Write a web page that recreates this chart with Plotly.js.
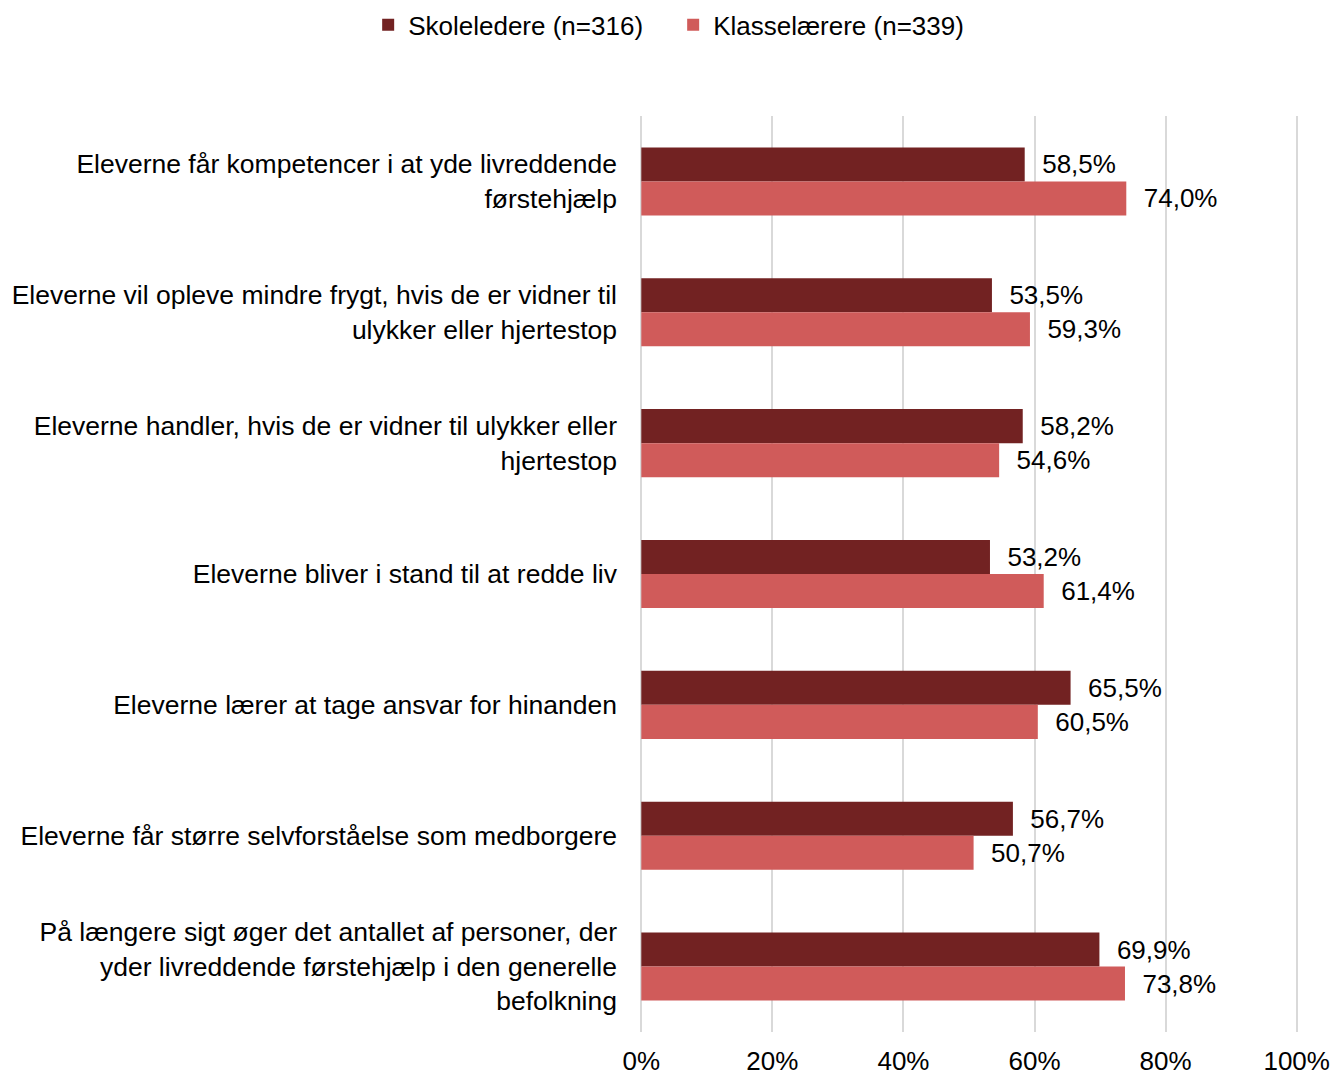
<!DOCTYPE html>
<html><head><meta charset="utf-8">
<script src="https://cdn.plot.ly/plotly-3.0.1.min.js"></script>
<style>html,body{margin:0;padding:0;background:#fff}#chart{width:1333px;height:1076px}</style>
</head><body><div id="chart"></div>
<script>
const categories = [
  "Eleverne får kompetencer i at yde livreddende<br>førstehjælp",
  "Eleverne vil opleve mindre frygt, hvis de er vidner til<br>ulykker eller hjertestop",
  "Eleverne handler, hvis de er vidner til ulykker eller<br>hjertestop",
  "Eleverne bliver i stand til at redde liv",
  "Eleverne lærer at tage ansvar for hinanden",
  "Eleverne får større selvforståelse som medborgere",
  "På længere sigt øger det antallet af personer, der<br>yder livreddende førstehjælp i den generelle<br>befolkning"
];
const skoleledere = [58.5, 53.5, 58.2, 53.2, 65.5, 56.7, 69.9];
const klasselaerere = [74.0, 59.3, 54.6, 61.4, 60.5, 50.7, 73.8];
const seriesNames = ["Skoleledere (n=316)", "Klasselærere (n=339)"];
const tickVals = [0, 20, 40, 60, 80, 100];
const tickText = ["0%", "20%", "40%", "60%", "80%", "100%"];

const fmt = v => "\u00a0\u00a0" + v.toFixed(1).replace(".", ",") + "%";
const font = {family: "Liberation Sans, Arial, sans-serif", size: 26, color: "#000"};
const yfont = {family: "Liberation Sans, Arial, sans-serif", size: 26.5, color: "#000"};

const traces = [
  {type: "bar", orientation: "h", name: seriesNames[0], y: categories, x: skoleledere,
   marker: {color: "#722222"}, text: skoleledere.map(fmt), textposition: "outside",
   textfont: font, cliponaxis: false, hoverinfo: "x"},
  {type: "bar", orientation: "h", name: seriesNames[1], y: categories, x: klasselaerere,
   marker: {color: "#D05B5A"}, text: klasselaerere.map(fmt), textposition: "outside",
   textfont: font, cliponaxis: false, hoverinfo: "x"}
];

const layout = {
  width: 1333, height: 1076,
  margin: {l: 639.7, r: 34.7, t: 116, b: 44},
  paper_bgcolor: "#fff", plot_bgcolor: "#fff",
  font: font,
  barmode: "group", bargap: 0.48, bargroupgap: 0,
  showlegend: true,
  legend: {orientation: "h", xref: "container", yref: "container", x: 0.505, xanchor: "center",
           y: 0.977, yanchor: "middle", font: font, itemwidth: 30, traceorder: "normal",
           entrywidth: 260},
  xaxis: {range: [-0.2, 100.2], tickvals: tickVals, ticktext: tickText, showgrid: true,
          gridcolor: "#d9d9d9", gridwidth: 2, zeroline: false, showline: false,
          ticks: "", tickfont: font, automargin: false, ticklabelstandoff: 11},
  yaxis: {autorange: "reversed", showgrid: false, zeroline: false, showline: false,
          ticks: "", tickfont: yfont, automargin: false, ticklabelstandoff: 22}
};

Plotly.newPlot("chart", traces, layout, {displayModeBar: false, staticPlot: true});
</script></body></html>
